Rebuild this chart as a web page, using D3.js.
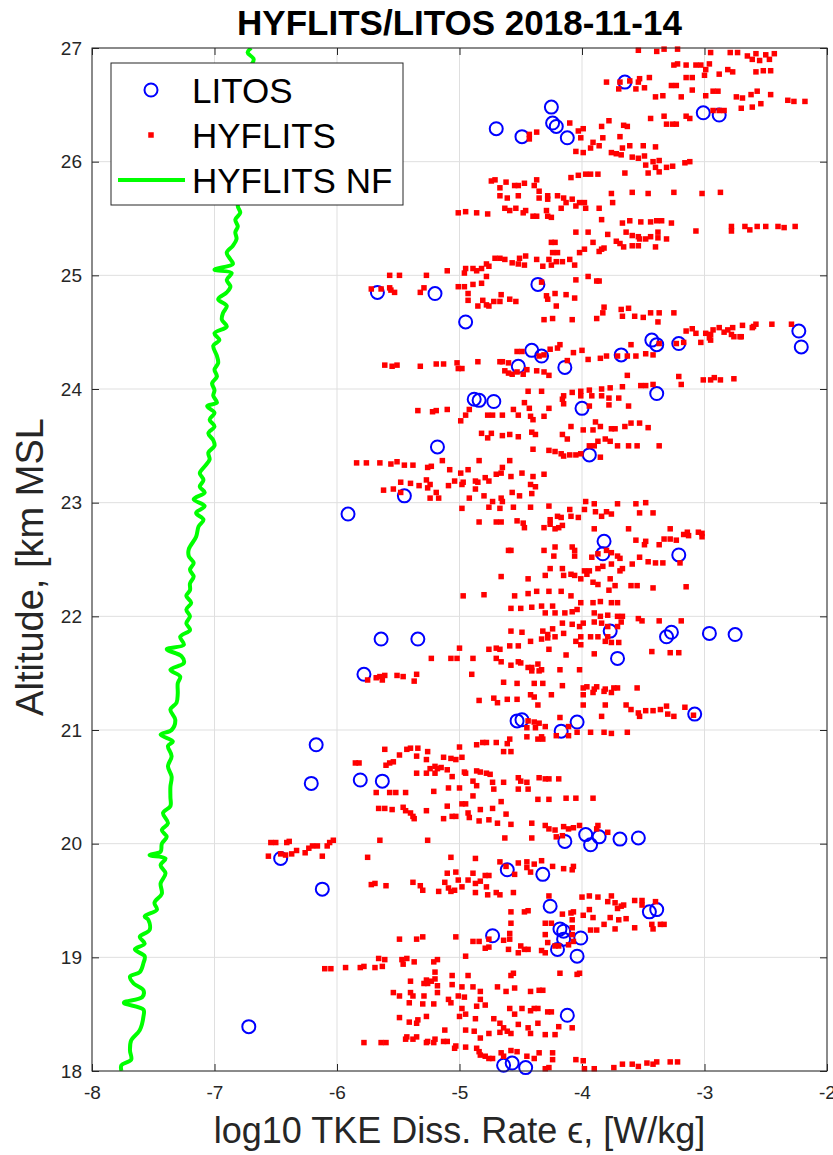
<!DOCTYPE html>
<html>
<head>
<meta charset="utf-8">
<title>HYFLITS/LITOS 2018-11-14</title>
<style>
	body { margin: 0; background: #fff; }
	svg { display: block; font-family: 'Liberation Sans', Arial, Helvetica, sans-serif; }
	.grid line { stroke: #dfdfdf; stroke-width: 1; }
	.axis .tick text { fill: #262626; font-size: 19px; }
	.axis .tick line { stroke: #262626; }
	.axis path.domain { stroke: none; }
</style>
</head>
<body>
<div id="chart"></div>
<script src="https://d3js.org/d3.v7.min.js"></script>
<script>
'use strict';

// ticks
const xTicks = [-8, -7, -6, -5, -4, -3, -2];
const yTicks = [18, 19, 20, 21, 22, 23, 24, 25, 26, 27];

// HYFLITS NF noise floor: [log10 eps, altitude km]
const nfLine = [
	[-7.76,18.00],[-7.76,18.05],[-7.68,18.10],[-7.69,18.18],[-7.68,18.27],[-7.61,18.36],[-7.58,18.48],[-7.58,18.54],
	[-7.74,18.60],[-7.59,18.65],[-7.58,18.71],[-7.66,18.77],[-7.69,18.83],[-7.61,18.87],[-7.58,18.95],[-7.57,19.01],
	[-7.65,19.07],[-7.57,19.12],[-7.61,19.18],[-7.53,19.24],[-7.54,19.33],[-7.57,19.36],[-7.47,19.42],[-7.49,19.48],
	[-7.43,19.56],[-7.44,19.65],[-7.40,19.74],[-7.44,19.81],[-7.40,19.87],[-7.53,19.90],[-7.44,19.93],[-7.43,20.00],
	[-7.39,20.06],[-7.43,20.12],[-7.38,20.18],[-7.42,20.27],[-7.36,20.33],[-7.36,20.41],[-7.36,20.50],[-7.35,20.59],
	[-7.38,20.68],[-7.35,20.77],[-7.38,20.86],[-7.34,20.90],[-7.44,20.96],[-7.35,21.00],[-7.32,21.09],[-7.36,21.18],
	[-7.31,21.24],[-7.30,21.32],[-7.30,21.41],[-7.28,21.47],[-7.36,21.53],[-7.25,21.59],[-7.27,21.65],[-7.39,21.71],
	[-7.25,21.75],[-7.28,21.82],[-7.20,21.88],[-7.23,21.94],[-7.20,22.00],[-7.23,22.06],[-7.19,22.12],[-7.23,22.18],
	[-7.20,22.23],[-7.20,22.29],[-7.17,22.35],[-7.20,22.41],[-7.17,22.47],[-7.21,22.53],[-7.21,22.59],[-7.15,22.70],
	[-7.13,22.79],[-7.09,22.85],[-7.15,22.91],[-7.08,22.97],[-7.17,23.03],[-7.08,23.09],[-7.12,23.14],[-7.09,23.20],
	[-7.12,23.26],[-7.08,23.32],[-7.04,23.38],[-7.05,23.44],[-7.00,23.50],[-7.01,23.55],[-7.05,23.61],[-7.00,23.67],
	[-7.04,23.73],[-7.00,23.79],[-7.06,23.85],[-6.98,23.88],[-7.01,23.94],[-7.00,23.99],[-7.02,24.05],[-6.98,24.11],
	[-7.00,24.17],[-6.97,24.23],[-6.98,24.29],[-7.01,24.38],[-6.96,24.43],[-7.00,24.49],[-6.90,24.55],[-6.94,24.61],
	[-6.93,24.67],[-6.90,24.73],[-6.97,24.79],[-6.90,24.85],[-6.87,24.90],[-6.90,24.96],[-6.86,25.02],[-7.00,25.05],
	[-6.85,25.10],[-6.87,25.14],[-6.90,25.20],[-6.85,25.26],[-6.82,25.32],[-6.83,25.38],[-6.81,25.43],[-6.83,25.49],
	[-6.79,25.55],[-6.81,25.61],[-6.78,25.76],[-6.79,25.90],[-6.76,26.05],[-6.77,26.20],[-6.74,26.34],[-6.75,26.49],
	[-6.73,26.64],[-6.74,26.78],[-6.68,26.90],[-6.73,26.96],[-6.70,27.00]
];

// LITOS: [log10 eps, altitude km]
const litos = [
	[-3.65,26.70],[-4.25,26.48],[-4.70,26.29],[-4.49,26.22],[-4.24,26.34],[-4.21,26.31],[-4.12,26.21],[-3.01,26.43],
	[-2.88,26.41],[-4.36,24.92],[-5.20,24.84],[-5.67,24.85],[-4.95,24.59],[-2.23,24.51],[-2.21,24.37],[-3.43,24.43],
	[-3.39,24.39],[-3.21,24.40],[-3.68,24.30],[-4.41,24.34],[-4.33,24.29],[-4.52,24.20],[-4.14,24.19],[-3.39,23.96],
	[-4.00,23.83],[-4.88,23.91],[-4.84,23.90],[-4.72,23.89],[-5.18,23.49],[-3.94,23.42],[-5.45,23.06],[-5.91,22.90],
	[-3.82,22.66],[-3.83,22.55],[-3.21,22.54],[-5.64,21.80],[-5.34,21.80],[-3.77,21.87],[-3.31,21.82],[-3.27,21.86],
	[-2.96,21.85],[-2.75,21.84],[-3.71,21.63],[-5.78,21.49],[-4.53,21.08],[-4.49,21.09],[-4.04,21.07],[-4.17,20.99],
	[-3.08,21.14],[-6.17,20.87],[-6.21,20.53],[-5.81,20.56],[-5.63,20.55],[-4.14,20.02],[-3.97,20.08],[-3.93,19.99],
	[-3.86,20.06],[-3.69,20.04],[-3.54,20.05],[-6.46,19.87],[-4.61,19.77],[-4.32,19.73],[-6.12,19.60],[-4.26,19.45],
	[-3.45,19.40],[-3.39,19.42],[-4.73,19.19],[-4.18,19.25],[-4.15,19.23],[-4.15,19.16],[-4.01,19.17],[-4.20,19.07],
	[-4.04,19.01],[-4.12,18.49],[-6.72,18.39],[-4.64,18.05],[-4.57,18.07],[-4.46,18.03]
];

// HYFLITS: [log10 eps, altitude km]
const hyflits = [
	// 27 - 26.5 km
	[-3.54,26.98],[-3.39,26.97],[-3.33,26.99],[-3.22,26.99],[-2.95,26.96],[-2.79,26.96],[-2.73,26.96],[-2.65,26.93],
	[-2.58,26.95],[-2.50,26.94],[-2.43,26.95],[-2.61,26.90],[-2.55,26.89],[-2.47,26.90],[-3.25,26.85],[-3.22,26.86],
	[-3.15,26.85],[-3.07,26.85],[-3.03,26.85],[-2.96,26.86],[-2.99,26.81],[-2.81,26.81],[-2.77,26.79],[-2.58,26.79],
	[-2.52,26.80],[-2.46,26.80],[-3.80,26.70],[-3.70,26.64],[-3.69,26.70],[-3.61,26.71],[-3.53,26.73],[-3.45,26.74],
	[-3.54,26.70],[-3.56,26.64],[-3.49,26.65],[-3.27,26.67],[-3.23,26.67],[-3.15,26.74],[-3.10,26.74],[-3.00,26.76],
	[-2.88,26.77],[-3.40,26.57],[-3.34,26.58],[-3.19,26.57],[-3.10,26.63],[-2.99,26.58],[-2.93,26.62],[-2.89,26.62],
	[-2.74,26.57],[-2.69,26.56],[-2.62,26.59],[-2.57,26.62],[-2.46,26.59],[-2.32,26.54],[-2.27,26.53],[-2.18,26.53],
	// 26.5 - 25.9 km
	[-4.43,26.24],[-4.37,26.26],[-4.43,26.20],[-4.10,26.34],[-4.03,26.27],[-3.99,26.29],[-4.01,26.21],[-3.99,26.08],
	[-4.05,26.09],[-3.93,26.12],[-3.84,26.31],[-3.78,26.36],[-3.83,26.21],[-3.91,26.17],[-3.86,26.14],[-3.69,26.22],
	[-3.76,26.08],[-3.72,26.07],[-3.68,26.06],[-3.66,26.32],[-3.63,26.31],[-3.61,26.14],[-3.67,26.12],[-3.50,26.14],
	[-3.40,26.13],[-3.59,26.04],[-3.54,26.03],[-3.49,26.05],[-3.48,25.97],[-3.42,26.00],[-3.37,26.01],[-3.40,25.95],
	[-3.31,25.95],[-3.26,25.96],[-3.16,25.99],[-3.12,26.00],[-3.46,25.90],[-3.37,25.91],[-3.44,26.38],[-3.33,26.40],
	[-3.31,26.33],[-3.26,26.33],[-3.23,26.33],[-3.15,26.40],[-3.12,26.38],[-2.70,26.47],[-2.61,26.48],[-2.54,26.51],
	[-2.93,26.45],[-2.88,26.45],[-2.84,26.45],
	// 25.9 - 25.4 km
	[-4.74,25.83],[-4.71,25.84],[-4.67,25.77],[-4.62,25.82],[-4.55,25.79],[-4.52,25.79],[-4.47,25.81],[-4.37,25.84],
	[-4.39,25.79],[-4.35,25.74],[-4.28,25.70],[-4.67,25.70],[-4.61,25.68],[-4.52,25.70],[-4.63,25.59],[-4.59,25.57],
	[-4.54,25.59],[-4.48,25.55],[-4.46,25.57],[-4.40,25.52],[-4.37,25.52],[-4.29,25.57],[-4.28,25.52],[-4.25,25.51],
	[-5.01,25.55],[-4.95,25.56],[-4.86,25.55],[-4.77,25.54],[-4.35,25.68],[-4.28,25.67],[-4.20,25.70],[-4.15,25.68],
	[-4.13,25.64],[-4.08,25.67],[-4.05,25.61],[-4.02,25.64],[-3.98,25.64],[-3.97,25.59],[-4.17,25.59],[-4.09,25.86],
	[-4.03,25.88],[-3.97,25.89],[-3.93,25.89],[-3.87,25.89],[-3.65,25.90],[-3.76,25.72],[-3.75,25.64],[-3.59,25.73],
	[-3.46,25.72],[-3.25,25.73],[-3.02,25.72],[-2.87,25.73],[-3.86,25.59],[-3.84,25.49],[-3.67,25.46],[-3.61,25.48],
	[-3.52,25.47],[-3.44,25.47],[-3.39,25.48],[-3.35,25.48],[-3.27,25.46],[-3.07,25.39],[-2.78,25.43],[-2.78,25.39],
	[-2.67,25.43],[-2.63,25.40],[-2.57,25.43],[-2.50,25.43],[-2.40,25.43],[-2.35,25.42],[-2.26,25.43],
	// 25.4 - 24.45 km
	[-4.05,25.38],[-3.95,25.38],[-3.91,25.29],[-3.79,25.36],[-3.72,25.30],[-3.64,25.38],[-3.59,25.35],[-3.54,25.34],
	[-3.53,25.32],[-3.48,25.32],[-3.44,25.34],[-3.38,25.38],[-3.38,25.33],[-3.31,25.32],[-3.40,25.25],[-3.69,25.28],
	[-3.66,25.25],[-3.59,25.26],[-3.54,25.26],[-4.25,25.29],[-4.22,25.29],[-4.24,25.20],[-4.20,25.20],[-4.02,25.20],
	[-3.98,25.23],[-3.86,25.21],[-3.84,25.23],[-3.82,25.24],[-4.10,25.14],[-4.06,25.09],[-4.16,25.12],[-4.21,25.12],
	[-4.27,25.14],[-4.25,25.09],[-4.32,25.08],[-4.37,25.14],[-4.51,25.15],[-4.46,25.17],[-4.52,25.10],[-4.47,25.09],
	[-4.57,25.11],[-4.71,25.15],[-4.67,25.15],[-4.63,25.14],[-4.78,25.10],[-4.76,25.08],[-4.82,25.06],[-4.89,25.06],
	[-4.86,25.04],[-4.95,25.06],[-4.96,25.02],[-5.10,25.04],[-5.27,25.00],[-5.29,24.89],[-5.01,24.90],[-4.96,24.90],
	[-4.89,24.92],[-4.82,24.93],[-4.78,24.99],[-4.93,24.84],[-4.93,24.78],[-4.85,24.73],[-4.78,24.74],[-4.76,24.73],
	[-4.81,24.78],[-4.72,24.77],[-4.67,24.77],[-4.66,24.83],[-4.59,24.79],[-4.54,24.77],[-4.33,24.94],[-4.29,24.82],
	[-4.22,24.84],[-4.28,24.79],[-4.21,24.73],[-4.13,24.83],[-4.06,24.80],[-4.05,24.96],[-3.95,24.99],[-3.88,24.95],
	[-3.86,24.95],[-4.31,24.61],[-4.24,24.62],[-4.08,24.61],[-3.88,24.62],[-3.83,24.67],[-3.82,24.72],[-3.68,24.70],
	[-3.67,24.64],[-3.62,24.71],[-3.57,24.64],[-3.50,24.63],[-3.44,24.67],[-3.37,24.67],[-3.38,24.59],[-3.25,24.67],
	[-3.15,24.51],[-3.10,24.53],[-3.07,24.49],[-2.99,24.49],[-2.95,24.48],[-2.93,24.52],[-2.88,24.54],[-2.81,24.52],
	[-2.77,24.54],[-2.69,24.56],[-2.61,24.54],[-2.58,24.57],[-2.45,24.57],[-2.29,24.57],[-2.78,24.48],[-2.71,24.46],
	[-2.96,24.45],[-2.60,24.55],[-2.70,24.46],[-2.76,24.46],[-2.84,24.50],
	[-5.57,25.00],[-5.49,25.00],[-5.72,24.88],[-5.64,24.88],[-5.57,24.89],[-5.56,24.87],[-5.53,24.85],[-5.32,24.85],
	// 24.45 - 23.8 km
	[-3.03,24.41],[-2.95,24.43],[-3.37,24.40],[-3.23,24.40],[-3.17,24.41],[-3.60,24.39],[-4.18,24.39],[-4.20,24.36],
	[-4.26,24.35],[-4.53,24.33],[-4.49,24.33],[-4.31,24.30],[-4.35,24.29],[-4.07,24.32],[-4.00,24.34],[-3.95,24.26],
	[-3.85,24.27],[-3.80,24.29],[-3.71,24.29],[-3.63,24.29],[-3.56,24.29],[-3.48,24.31],[-3.42,24.30],[-4.65,24.24],
	[-4.60,24.23],[-4.67,24.24],[-4.63,24.16],[-4.60,24.14],[-4.57,24.13],[-4.53,24.15],[-4.48,24.13],[-4.45,24.17],
	[-4.37,24.16],[-4.31,24.15],[-4.27,24.12],[-4.12,24.25],[-5.61,24.21],[-5.55,24.20],[-5.51,24.21],[-5.32,24.20],
	[-5.19,24.22],[-5.13,24.22],[-5.02,24.23],[-5.01,24.18],[-4.98,24.18],[-4.85,24.24],[-3.21,24.11],[-3.19,24.04],
	[-3.01,24.08],[-2.95,24.08],[-2.92,24.10],[-2.87,24.08],[-2.76,24.09],[-3.63,24.12],[-3.52,24.03],[-3.48,24.03],
	[-3.42,24.04],[-3.67,24.02],[-3.77,24.01],[-3.84,24.00],[-3.94,23.99],[-4.01,23.98],[-4.08,23.97],[-4.15,23.94],
	[-4.16,23.91],[-4.15,23.87],[-4.01,23.94],[-3.92,23.94],[-3.84,23.94],[-3.78,23.92],[-3.70,23.92],[-3.62,23.85],
	[-3.78,23.86],[-3.94,23.85],[-4.27,23.83],[-4.33,23.98],[-4.44,23.98],[-4.47,23.88],[-4.43,23.83],[-4.56,23.82],
	// 23.8 - 23.0 km
	[-4.65,23.77],[-4.73,23.77],[-4.77,23.77],[-4.52,23.77],[-4.42,23.76],[-4.40,23.73],[-4.31,23.76],[-4.92,23.82],
	[-4.95,23.77],[-4.99,23.72],[-5.10,23.82],[-5.19,23.81],[-5.22,23.80],[-5.34,23.81],[-4.09,23.67],[-4.16,23.60],
	[-4.12,23.56],[-3.99,23.64],[-3.91,23.64],[-3.89,23.71],[-3.85,23.67],[-3.76,23.65],[-3.73,23.65],[-3.65,23.67],
	[-3.60,23.70],[-3.53,23.70],[-3.46,23.66],[-4.41,23.62],[-4.38,23.60],[-4.52,23.58],[-4.59,23.60],[-4.65,23.59],
	[-4.74,23.61],[-4.82,23.61],[-4.77,23.57],[-4.40,23.47],[-4.27,23.46],[-4.22,23.45],[-4.17,23.43],[-4.15,23.41],
	[-4.10,23.42],[-4.05,23.42],[-4.01,23.43],[-3.94,23.50],[-3.90,23.50],[-3.87,23.54],[-3.81,23.56],[-3.77,23.54],
	[-3.71,23.50],[-3.62,23.50],[-3.55,23.50],[-3.37,23.50],[-3.85,23.40],[-4.59,23.37],[-4.84,23.37],[-4.85,23.18],
	[-4.79,23.22],[-4.76,23.19],[-4.70,23.25],[-4.65,23.31],[-4.66,23.26],[-4.58,23.23],[-4.49,23.26],[-4.40,23.23],
	[-4.31,23.25],[-4.42,23.16],[-4.38,23.14],[-4.41,23.08],[-4.57,23.09],[-4.51,23.06],[-4.66,23.04],[-4.65,23.01],
	[-4.73,23.01],[-4.80,23.06],[-4.92,23.04],[-4.87,23.12],[-4.87,23.19],[-4.93,23.29],[-4.99,23.26],[-4.97,23.18],
	[-4.98,23.16],[-5.04,23.19],[-5.09,23.15],[-5.08,23.29],[-5.14,23.37],[-5.23,23.32],[-5.26,23.31],[-5.38,23.33],
	[-5.45,23.33],[-5.51,23.36],[-5.56,23.34],[-5.65,23.35],[-5.76,23.35],[-5.84,23.35],[-5.62,23.11],[-5.54,23.12],
	[-5.48,23.18],[-5.48,23.09],[-5.40,23.17],[-5.33,23.15],[-5.27,23.20],[-5.24,23.16],[-5.26,23.13],[-5.19,23.09],
	[-5.24,23.04],[-5.17,23.04],
	// 23.0 - 22.15 km
	[-4.98,22.95],[-4.84,22.83],[-4.76,22.96],[-4.70,22.83],[-4.66,22.83],[-4.67,22.95],[-4.56,22.96],[-4.53,22.84],
	[-4.48,22.82],[-4.47,22.78],[-4.42,22.96],[-4.31,22.78],[-4.27,22.97],[-4.26,22.85],[-4.20,22.88],[-4.17,22.87],
	[-4.10,22.94],[-4.09,22.88],[-4.03,22.87],[-4.26,22.81],[-4.19,22.78],[-4.16,22.80],[-4.22,22.77],[-3.97,23.01],
	[-3.90,22.99],[-3.98,22.94],[-3.89,22.92],[-3.84,22.88],[-3.80,22.92],[-3.76,22.90],[-3.71,22.99],[-3.56,22.99],
	[-3.53,22.91],[-3.48,23.00],[-3.42,22.91],[-3.90,22.77],[-3.62,22.77],[-3.28,22.77],[-3.56,22.67],[-3.48,22.66],
	[-3.49,22.63],[-3.37,22.63],[-3.33,22.68],[-3.28,22.68],[-3.23,22.67],[-3.17,22.72],[-3.14,22.74],[-3.13,22.71],
	[-3.05,22.74],[-3.02,22.73],[-3.02,22.70],[-4.60,22.58],[-4.58,22.58],[-4.31,22.58],[-4.22,22.61],[-4.08,22.61],
	[-4.06,22.58],[-4.23,22.53],[-4.06,22.53],[-3.92,22.52],[-3.87,22.55],[-3.80,22.58],[-3.76,22.56],[-3.71,22.53],
	[-3.69,22.51],[-3.53,22.52],[-3.46,22.48],[-3.40,22.47],[-3.34,22.47],[-3.20,22.47],[-3.59,22.46],[-3.76,22.46],
	[-3.83,22.44],[-3.87,22.42],[-3.94,22.40],[-3.98,22.40],[-3.96,22.37],[-4.06,22.36],[-4.15,22.36],[-4.26,22.42],
	[-4.30,22.36],[-4.16,22.42],[-4.09,22.37],[-4.01,22.33],[-3.91,22.30],[-3.87,22.28],[-3.77,22.33],[-3.69,22.40],
	[-3.67,22.42],[-3.60,22.27],[-3.55,22.27],[-3.42,22.25],[-3.15,22.26],[-4.66,22.35],[-4.44,22.33],[-3.78,22.23],
	[-3.73,22.27],[-4.97,22.18],[-4.80,22.19],[-4.55,22.18],[-4.44,22.20],[-4.37,22.22],[-4.27,22.22],[-4.17,22.22],
	[-4.09,22.18],
	// 22.15 - 21.4 km
	[-4.58,22.07],[-4.50,22.07],[-4.41,22.08],[-4.33,22.09],[-4.24,22.09],[-4.30,22.03],[-4.22,22.03],[-4.14,22.03],
	[-4.08,22.04],[-4.04,22.06],[-4.01,22.12],[-3.91,22.12],[-3.85,22.13],[-3.76,22.12],[-3.71,22.12],[-3.90,22.03],
	[-3.85,22.00],[-3.79,22.01],[-3.71,22.00],[-3.67,22.00],[-3.54,21.98],[-3.51,21.96],[-3.37,21.96],[-3.19,21.96],
	[-4.16,21.94],[-4.08,21.93],[-4.02,21.91],[-3.99,21.94],[-3.90,21.95],[-3.84,21.94],[-3.79,21.91],[-3.71,21.91],
	[-3.68,21.95],[-4.58,21.87],[-4.49,21.86],[-4.32,21.87],[-4.28,21.84],[-4.24,21.89],[-4.15,21.85],[-4.33,21.80],
	[-4.28,21.81],[-4.22,21.82],[-4.01,21.82],[-4.05,21.78],[-4.01,21.75],[-3.93,21.82],[-3.87,21.82],[-3.81,21.78],
	[-3.76,21.77],[-3.70,21.77],[-3.79,21.82],[-4.42,21.78],[-4.27,21.71],[-4.13,21.66],[-3.90,21.67],[-3.43,21.69],
	[-3.28,21.68],[-3.21,21.68],[-5.00,21.72],[-5.02,21.63],[-5.07,21.63],[-5.23,21.63],[-4.89,21.63],[-4.76,21.71],
	[-4.70,21.72],[-4.67,21.71],[-4.59,21.74],[-4.52,21.74],[-4.70,21.63],[-4.66,21.60],[-4.58,21.57],[-4.52,21.60],
	[-4.50,21.59],[-4.44,21.55],[-4.41,21.55],[-4.36,21.58],[-4.33,21.53],[-4.35,21.52],[-4.41,21.52],[-4.18,21.53],
	[-4.02,21.53],[-5.75,21.44],[-5.68,21.46],[-5.63,21.44],[-5.65,21.47],[-5.61,21.48],[-5.51,21.48],[-5.46,21.47],
	[-5.37,21.43],[-5.35,21.49],[-4.90,21.49],
	// 21.4 - 20.9 km
	[-4.64,21.42],[-4.53,21.41],[-4.39,21.41],[-4.32,21.41],[-4.16,21.39],[-3.99,21.37],[-3.96,21.38],[-3.88,21.38],
	[-3.81,21.36],[-3.74,21.37],[-3.71,21.37],[-3.55,21.37],[-4.25,21.31],[-4.42,21.31],[-4.39,21.29],[-4.36,21.22],
	[-3.99,21.31],[-3.91,21.33],[-3.90,21.36],[-3.82,21.34],[-3.76,21.33],[-4.84,21.26],[-4.72,21.28],[-4.69,21.24],
	[-4.61,21.27],[-4.53,21.27],[-3.99,21.22],[-3.81,21.22],[-3.64,21.22],[-3.60,21.18],[-3.54,21.15],[-3.53,21.12],
	[-3.48,21.17],[-3.42,21.17],[-3.36,21.18],[-3.31,21.21],[-3.30,21.14],[-3.25,21.12],[-3.16,21.20],[-3.09,21.13],
	[-4.44,21.08],[-4.39,21.07],[-4.35,21.06],[-4.30,21.03],[-4.18,21.11],[-4.11,21.03],[-4.04,20.98],[-3.93,20.98],
	[-3.84,21.12],[-3.82,20.98],[-3.76,20.97],[-3.63,20.98],[-4.45,21.02],[-4.38,21.02],[-4.33,20.94],[-4.45,20.94],
	[-4.36,20.92],[-4.32,20.92],[-4.21,20.95],[-4.11,20.95],
	// 20.9 - 20.05 km
	[-5.61,20.83],[-5.49,20.78],[-5.43,20.83],[-5.40,20.84],[-5.34,20.84],[-5.26,20.81],[-5.27,20.74],[-5.35,20.77],
	[-5.54,20.72],[-5.57,20.71],[-5.60,20.69],[-5.82,20.71],[-5.85,20.71],[-5.00,20.85],[-4.86,20.87],[-4.81,20.89],
	[-4.78,20.89],[-4.70,20.89],[-4.61,20.88],[-4.64,20.81],[-4.58,20.81],[-4.59,20.92],[-4.98,20.76],[-5.07,20.75],
	[-5.03,20.74],[-5.13,20.76],[-5.20,20.68],[-5.18,20.66],[-5.15,20.67],[-5.24,20.66],[-5.10,20.65],[-5.35,20.62],
	[-5.27,20.62],[-5.20,20.62],[-5.06,20.59],[-4.95,20.62],[-4.86,20.64],[-4.83,20.63],[-4.78,20.62],[-4.75,20.61],
	[-4.89,20.55],[-4.86,20.51],[-4.89,20.42],[-4.96,20.63],[-5.00,20.49],[-5.09,20.49],[-5.21,20.46],[-4.52,20.58],
	[-4.50,20.55],[-4.45,20.54],[-4.35,20.58],[-4.30,20.57],[-4.27,20.57],[-4.19,20.57],[-4.73,20.54],[-4.72,20.48],
	[-4.64,20.54],[-4.52,20.48],[-4.44,20.48],[-4.36,20.39],[-4.27,20.39],[-4.13,20.40],[-4.05,20.40],[-3.91,20.40],
	[-5.44,20.45],[-5.57,20.45],[-5.68,20.45],[-5.52,20.45],[-5.66,20.31],[-5.61,20.31],[-5.55,20.30],[-5.46,20.32],
	[-5.44,20.29],[-5.40,20.27],[-5.38,20.24],[-5.37,20.22],[-5.27,20.29],[-5.13,20.22],[-5.06,20.24],[-5.03,20.24],
	[-4.93,20.27],[-4.92,20.23],[-4.84,20.20],[-4.76,20.21],[-4.83,20.30],[-4.73,20.31],[-4.66,20.37],[-4.95,20.35],
	[-4.98,20.35],[-5.10,20.33],[-4.69,20.18],[-4.62,20.26],[-4.58,20.17],[-4.41,20.18],[-4.30,20.16],[-4.27,20.13],
	[-4.21,20.06],[-4.15,20.15],[-4.07,20.14],[-4.02,20.16],[-3.87,20.16],[-3.79,20.10],[-4.22,20.12],[-4.11,20.13],
	[-4.16,20.07],[-3.88,20.13],
	// 20.05 - 19.7 km
	[-6.54,20.01],[-6.50,20.01],[-6.41,20.01],[-6.39,20.02],[-6.23,19.96],[-6.20,19.98],[-6.16,19.98],[-6.08,19.98],
	[-6.06,20.01],[-6.03,20.03],[-6.56,19.89],[-6.46,19.91],[-6.42,19.90],[-6.37,19.91],[-6.33,19.94],[-6.26,19.92],
	[-6.12,19.89],[-5.75,19.88],[-5.65,20.03],[-5.26,20.03],[-4.63,20.05],[-4.41,20.05],[-5.07,19.88],[-4.87,19.87],
	[-4.67,19.84],[-4.52,19.83],[-4.45,19.84],[-4.39,19.82],[-4.33,19.85],[-4.24,19.80],[-4.15,19.78],[-4.07,19.80],
	[-4.62,19.80],[-4.45,19.79],[-4.42,19.75],[-5.10,19.74],[-5.03,19.75],[-4.89,19.74],[-4.79,19.72],[-4.76,19.72],
	[-4.55,19.73],[-4.08,19.77],
	// 19.7 - 19.0 km
	[-5.72,19.64],[-5.69,19.65],[-5.60,19.63],[-5.38,19.66],[-5.32,19.63],[-5.30,19.59],[-5.17,19.58],[-5.12,19.66],
	[-5.09,19.61],[-5.07,19.58],[-5.04,19.59],[-5.01,19.68],[-4.98,19.62],[-4.93,19.68],[-4.87,19.65],[-4.87,19.57],
	[-4.83,19.67],[-4.78,19.62],[-4.77,19.55],[-4.70,19.57],[-4.67,19.55],[-4.56,19.57],[-4.58,19.40],[-4.47,19.40],
	[-4.44,19.41],[-4.58,19.30],[-4.30,19.30],[-4.25,19.30],[-4.27,19.54],[-4.16,19.38],[-4.09,19.39],[-4.07,19.40],
	[-4.08,19.33],[-4.00,19.53],[-3.94,19.54],[-3.87,19.53],[-3.79,19.49],[-3.76,19.54],[-3.73,19.48],[-3.68,19.45],
	[-3.71,19.43],[-3.66,19.46],[-3.57,19.50],[-3.51,19.50],[-3.51,19.46],[-3.40,19.49],[-3.99,19.37],[-3.91,19.35],
	[-3.94,19.42],[-3.82,19.29],[-3.77,19.35],[-3.70,19.33],[-3.64,19.34],[-3.57,19.26],[-3.43,19.29],[-3.42,19.25],
	[-3.36,19.29],[-3.33,19.29],[-3.93,19.24],[-3.88,19.24],[-3.73,19.25],[-4.08,19.26],[-4.30,19.20],[-4.28,19.13],
	[-4.22,19.10],[-4.19,19.10],[-4.11,19.11],[-4.07,19.14],[-4.08,19.20],[-4.59,19.21],[-4.59,19.16],[-4.64,19.15],
	[-4.76,19.16],[-4.89,19.14],[-4.84,19.14],[-4.79,19.08],[-4.76,19.09],[-4.50,19.10],[-4.47,19.07],[-4.44,19.07],
	[-4.52,19.04],[-4.33,19.06],[-4.30,19.04],[-5.03,19.18],[-5.30,19.18],[-5.35,19.16],[-5.49,19.16],[-4.95,19.01],
	[-4.60,19.07],
	// 19.0 - 18.4 km
	[-5.66,18.99],[-5.61,18.98],[-5.63,18.92],[-5.69,18.91],[-5.78,18.92],[-5.81,18.91],[-5.93,18.91],[-6.05,18.90],
	[-6.10,18.90],[-5.47,18.98],[-5.43,18.99],[-5.46,18.94],[-5.37,18.96],[-5.21,18.96],[-5.18,18.98],[-5.20,18.87],
	[-5.06,18.84],[-4.93,18.84],[-4.56,18.86],[-4.58,18.84],[-4.18,18.86],[-4.04,18.85],[-4.02,18.86],[-5.40,18.79],
	[-5.27,18.80],[-5.26,18.77],[-5.23,18.79],[-5.20,18.81],[-5.18,18.75],[-5.29,18.77],[-5.06,18.76],[-4.98,18.74],
	[-4.89,18.74],[-4.83,18.70],[-4.69,18.74],[-4.62,18.70],[-4.55,18.73],[-4.42,18.70],[-4.35,18.71],[-4.32,18.71],
	[-5.54,18.69],[-5.49,18.66],[-5.40,18.69],[-5.38,18.66],[-5.29,18.66],[-5.18,18.69],[-5.09,18.63],[-5.01,18.66],
	[-4.96,18.65],[-4.86,18.57],[-4.79,18.58],[-4.83,18.63],[-5.07,18.60],[-5.21,18.59],[-5.30,18.59],[-5.41,18.60],
	[-4.98,18.55],[-4.95,18.50],[-5.00,18.48],[-4.87,18.46],[-4.59,18.55],[-4.49,18.55],[-4.42,18.53],[-4.39,18.55],
	[-4.36,18.55],[-4.28,18.52],[-4.25,18.52],[-4.55,18.50],[-4.72,18.46],[-4.67,18.42],[-4.64,18.38],[-4.58,18.33],
	[-4.52,18.41],[-4.44,18.38],[-4.36,18.42],[-4.42,18.33],[-4.30,18.32],[-4.22,18.32],[-4.19,18.39],[-4.08,18.38],
	[-5.49,18.47],[-5.41,18.43],[-5.35,18.42],[-5.34,18.45],[-5.27,18.48],[-5.12,18.36],[-4.95,18.36],[-4.88,18.35],
	[-4.83,18.29],[-4.76,18.33],[-4.67,18.34],[-4.61,18.35],
	// 18.3 - 18.0 km
	[-5.78,18.25],[-5.64,18.25],[-5.60,18.25],[-5.44,18.28],[-5.43,18.30],[-5.38,18.28],[-5.35,18.30],[-5.27,18.25],
	[-5.26,18.26],[-5.21,18.25],[-5.20,18.28],[-5.13,18.26],[-5.10,18.26],[-5.04,18.20],[-5.03,18.22],[-4.95,18.21],
	[-4.86,18.20],[-4.84,18.17],[-4.83,18.14],[-4.79,18.13],[-4.76,18.11],[-4.73,18.11],[-4.66,18.16],[-4.64,18.13],
	[-4.58,18.18],[-4.53,18.17],[-4.45,18.13],[-4.39,18.11],[-4.35,18.16],[-4.30,18.02],[-4.27,18.03],[-4.24,18.16],
	[-4.24,18.10],[-4.05,18.10],[-3.99,18.09],[-3.98,18.02],[-3.90,18.02],[-3.74,18.03],[-3.67,18.06],[-3.59,18.06],
	[-3.54,18.04],[-3.47,18.07],[-3.42,18.06],[-3.39,18.08],[-3.28,18.08],[-3.22,18.08]
];

const W = 833, H = 1155;
const margin = {top: 48, right: 6, bottom: 84, left: 92};
const width = W - margin.left - margin.right;
const height = H - margin.top - margin.bottom;

const xScale = d3.scaleLinear().domain([-8, -2]).range([0, width]);
const yScale = d3.scaleLinear().domain([18, 27]).range([height, 0]);

const root = d3.select('#chart').append('svg')
	.attr('width', W)
	.attr('height', H);

const svg = root.append('g')
	.attr('transform', 'translate(' + margin.left + ',' + margin.top + ')');

svg.append('defs').append('clipPath')
	.attr('id', 'plotClip')
	.append('rect')
	.attr('width', width)
	.attr('height', height);

// grid
const grid = svg.append('g').attr('class', 'grid');
grid.selectAll('.gx').data(xTicks).enter().append('line')
	.attr('x1', d => xScale(d)).attr('x2', d => xScale(d))
	.attr('y1', 0).attr('y2', height);
grid.selectAll('.gy').data(yTicks).enter().append('line')
	.attr('y1', d => yScale(d)).attr('y2', d => yScale(d))
	.attr('x1', 0).attr('x2', width);

// axes, ticks inward like matlab
const fmt = d => String(d);
svg.append('g')
	.attr('class', 'axis')
	.attr('transform', 'translate(0,' + height + ')')
	.call(d3.axisBottom(xScale).tickValues(xTicks).tickFormat(fmt).tickSizeInner(-7).tickSizeOuter(0).tickPadding(15));
svg.append('g')
	.attr('class', 'axis')
	.call(d3.axisTop(xScale).tickValues(xTicks).tickSizeInner(-7).tickSizeOuter(0).tickFormat(''));
svg.append('g')
	.attr('class', 'axis')
	.call(d3.axisLeft(yScale).tickValues(yTicks).tickFormat(fmt).tickSizeInner(-7).tickSizeOuter(0).tickPadding(10));
svg.append('g')
	.attr('class', 'axis')
	.attr('transform', 'translate(' + width + ',0)')
	.call(d3.axisRight(yScale).tickValues(yTicks).tickSizeInner(-7).tickSizeOuter(0).tickFormat(''));

// LITOS circles
svg.append('g').selectAll('circle')
	.data(litos)
	.enter().append('circle')
	.attr('cx', d => xScale(d[0]))
	.attr('cy', d => yScale(d[1]))
	.attr('r', 6.5)
	.attr('fill', 'none')
	.attr('stroke', '#0000ff')
	.attr('stroke-width', 2);

// HYFLITS points
svg.append('g').selectAll('rect')
	.data(hyflits)
	.enter().append('rect')
	.attr('x', d => xScale(d[0]) - 2.75)
	.attr('y', d => yScale(d[1]) - 2.75)
	.attr('width', 5.5)
	.attr('height', 5.5)
	.attr('fill', '#ff0000');

// noise floor
svg.append('path')
	.datum(nfLine)
	.attr('clip-path', 'url(#plotClip)')
	.attr('fill', 'none')
	.attr('stroke', '#00ff00')
	.attr('stroke-width', 4)
	.attr('stroke-linejoin', 'round')
	.attr('d', d3.line().curve(d3.curveCatmullRom).x(d => xScale(d[0])).y(d => yScale(d[1])));

// box
svg.append('rect')
	.attr('width', width)
	.attr('height', height)
	.attr('fill', 'none')
	.attr('stroke', '#262626')
	.attr('stroke-width', 1);

// title and labels
root.append('text')
	.attr('x', margin.left + width / 2)
	.attr('y', 35)
	.attr('text-anchor', 'middle')
	.attr('font-size', 35)
	.attr('font-weight', 'bold')
	.attr('fill', '#000')
	.text('HYFLITS/LITOS 2018-11-14');

root.append('text')
	.attr('x', margin.left + width / 2)
	.attr('y', 1143)
	.attr('text-anchor', 'middle')
	.attr('font-size', 36)
	.attr('fill', '#262626')
	.text('log10 TKE Diss. Rate \u03f5, [W/kg]');

root.append('text')
	.attr('transform', 'translate(43,567) rotate(-90)')
	.attr('text-anchor', 'middle')
	.attr('font-size', 38)
	.attr('fill', '#262626')
	.text('Altitude, [km MSL');

// legend
const legend = root.append('g');
legend.append('rect')
	.attr('x', 111).attr('y', 63)
	.attr('width', 292).attr('height', 142)
	.attr('fill', '#fff')
	.attr('stroke', '#262626')
	.attr('stroke-width', 1);

const legendRows = ['LITOS', 'HYFLITS', 'HYFLITS NF'];
legend.selectAll('text')
	.data(legendRows)
	.enter().append('text')
	.attr('x', 192)
	.attr('y', (d, i) => 103 + i * 45)
	.attr('font-size', 35)
	.attr('fill', '#000')
	.text(d => d);

legend.append('circle')
	.attr('cx', 151).attr('cy', 90).attr('r', 6.5)
	.attr('fill', 'none').attr('stroke', '#0000ff').attr('stroke-width', 2);
legend.append('rect')
	.attr('x', 148.25).attr('y', 132.25).attr('width', 5.5).attr('height', 5.5)
	.attr('fill', '#ff0000');
legend.append('line')
	.attr('x1', 118).attr('x2', 185).attr('y1', 180).attr('y2', 180)
	.attr('stroke', '#00ff00').attr('stroke-width', 4);
</script>
</body>
</html>
